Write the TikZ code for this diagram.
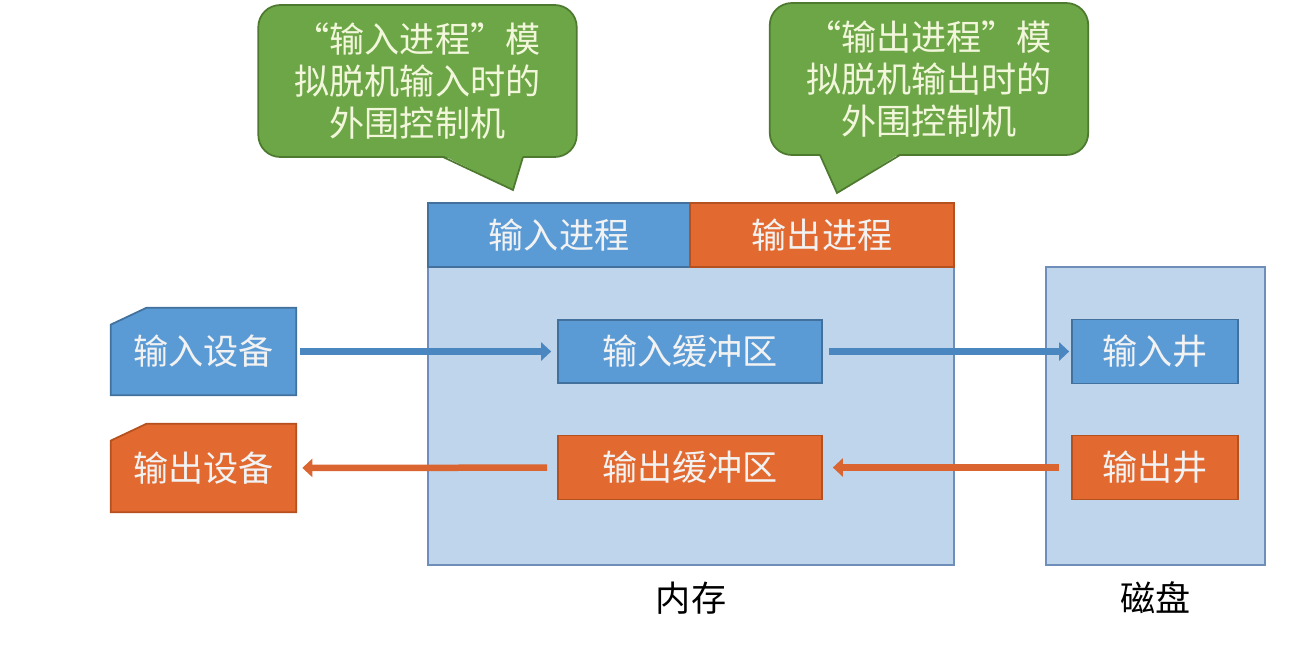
\documentclass[tikz,border=0pt]{standalone}
\usepackage{fontspec}
\setmainfont{Noto Sans CJK SC}
\usepackage{tikz}
\usetikzlibrary{arrows.meta,backgrounds}

\definecolor{BoxBlue}{HTML}{5B9BD5}
\definecolor{LineBlue}{HTML}{41719C}
\definecolor{BoxOrange}{HTML}{E2692F}
\definecolor{LineOrange}{HTML}{B5511F}
\definecolor{PaleBlue}{HTML}{BED5EB}
\definecolor{PaleLine}{HTML}{6F8FBA}
\definecolor{BubGreen}{HTML}{6CA646}
\definecolor{BubLine}{HTML}{4E7A30}
\definecolor{BubText}{HTML}{F2F7DC}
\definecolor{ArrBlue}{HTML}{4A86C0}
\definecolor{ArrOrange}{HTML}{DB6530}

\tikzset{
  cn/.style={font=\fontsize{20}{24}\selectfont},
  box/.style={cn, draw, line width=1pt, inner sep=0pt, text=white!95!black},
  bluebox/.style={box, fill=BoxBlue, draw=LineBlue},
  orangebox/.style={box, fill=BoxOrange, draw=LineOrange},
  store/.style={draw=PaleLine, fill=PaleBlue, line width=1pt, inner sep=0pt},
  bubble/.style={cn, fill=BubGreen, draw=BubLine, line width=1pt, rounded corners=0.44cm,
    text=BubText, align=center, minimum width=6.37cm, minimum height=3.04cm},
  flow/.style={line width=0.13cm, -{Triangle[length=0.2cm,width=0.36cm]}},
}

\begin{document}
\begin{tikzpicture}[x=0.02cm,y=-0.02cm]
  \useasboundingbox (0,0) rectangle (1301,667);
  % memory and disk
  \node[store, minimum width=10.52cm, minimum height=7.24cm] (mem) at (691,384) {};
  \node[store, minimum width=4.38cm, minimum height=5.96cm] (disk) at (1155.5,416) {};
  \node[bluebox, minimum width=5.24cm, minimum height=1.28cm] (inproc) at (559,235) {输入进程};
  \node[orangebox, minimum width=5.28cm, minimum height=1.28cm] (outproc) at (822,235) {输出进程};
  \node[cn] (memlabel) at (691,598) {内存};
  \node[cn] (disklabel) at (1155.5,598) {磁盘};
  % buffers and wells
  \node[bluebox, minimum width=5.28cm, minimum height=1.27cm] (inbuf) at (690,351.5) {输入缓冲区};
  \node[orangebox, minimum width=5.28cm, minimum height=1.28cm] (outbuf) at (690,467.5) {输出缓冲区};
  \node[bluebox, minimum width=3.32cm, minimum height=1.28cm] (inwell) at (1155,351.5) {输入井};
  \node[orangebox, minimum width=3.32cm, minimum height=1.28cm] (outwell) at (1155,467.5) {输出井};
  % devices
  \node[cn, text=white!95!black, minimum width=3.7cm, minimum height=1.74cm] (indev) at (203.5,351.5) {输入设备};
  \node[cn, text=white!95!black, minimum width=3.7cm, minimum height=1.76cm] (outdev) at (203.5,468) {输出设备};
  \begin{pgfonlayer}{background}
    \foreach \d/\c/\l in {indev/BoxBlue/LineBlue, outdev/BoxOrange/LineOrange}{
      \path[fill=\c, draw=\l, line width=1pt] (\d.south west) -- (\d.south east) -- (\d.north east)
        -- ([xshift=0.72cm]\d.north west) -- ([yshift=-0.34cm]\d.north west) -- cycle;
    }
  \end{pgfonlayer}
  % flows
  \path[draw, flow, ArrBlue, shorten <=0.08cm, shorten >=0.12cm] (indev) -- (inbuf);
  \path[draw, flow, ArrBlue, shorten <=0.12cm, shorten >=0.04cm] (inbuf) -- (inwell);
  \path[draw, flow, ArrOrange, shorten <=0.24cm, shorten >=0.2cm] (outwell) -- (outbuf);
  \path[draw, flow, ArrOrange, shorten <=0.2cm, shorten >=0.12cm] (outbuf) -- (outdev);
  % callouts
  \node[bubble] (inbub) at (417.5,81) {“输入进程”模\\拟脱机输入时的\\外围控制机};
  \node[bubble] (outbub) at (929,79) {“输出进程”模\\拟脱机输出时的\\外围控制机};
  \path[fill=BubGreen] (443,155.5) -- (513,190) -- (523,155.5) -- cycle;
  \path[draw=BubLine, line width=1pt] (443,157) -- (513,190) -- (523,157);
  \path[fill=BubGreen] (820,153.5) -- (837,193) -- (900,153.5) -- cycle;
  \path[draw=BubLine, line width=1pt] (820,155) -- (837,193) -- (900,155);
\end{tikzpicture}
\end{document}
